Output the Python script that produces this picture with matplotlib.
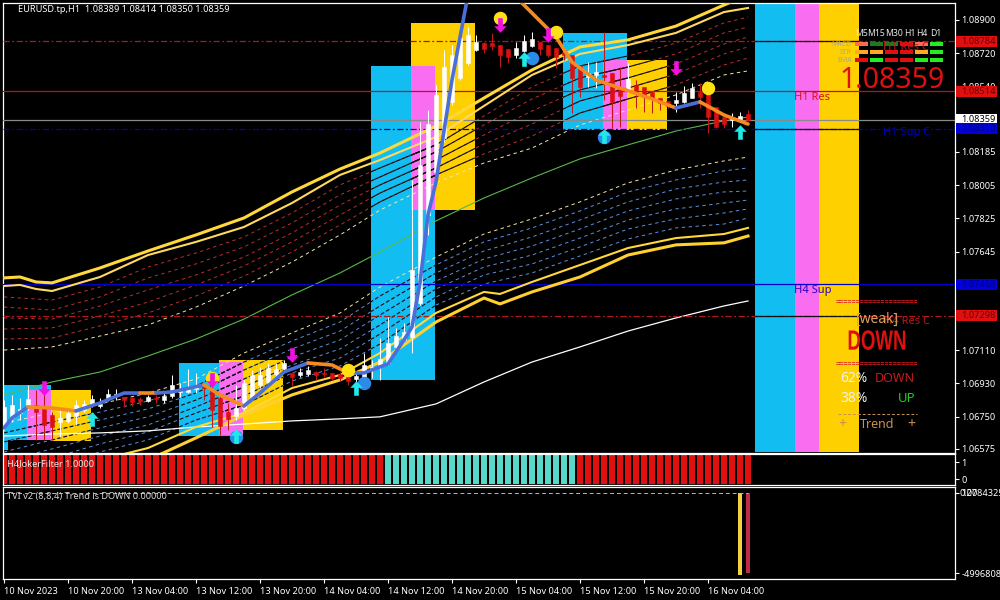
import matplotlib
matplotlib.use('Agg')
import matplotlib.pyplot as plt
from matplotlib.lines import Line2D
from matplotlib.patches import Rectangle
from matplotlib.patheffects import AbstractPathEffect
from matplotlib.transforms import Affine2D

plt.rcParams['font.family'] = ['Noto Sans', 'DejaVu Sans']

# hourly candles, bar 0 = first bar on the chart
opens = [1.06705, 1.06743, 1.06770, 1.06803, 1.06813, 1.06797, 1.06759, 1.06721, 1.06727, 1.06754,
         1.06786, 1.06813, 1.06808, 1.06851, 1.06862, 1.06857, 1.06851, 1.06846, 1.06835, 1.06851,
         1.06840, 1.06862, 1.06884, 1.06884, 1.06900, 1.06922, 1.06895, 1.06851, 1.06775, 1.06754,
         1.06797, 1.06851, 1.06922, 1.06938, 1.06981, 1.07008, 1.06987, 1.06976, 1.06981, 1.06992,
         1.06987, 1.06987, 1.06981, 1.06965, 1.06954, 1.06960, 1.07003, 1.07030, 1.07041, 1.07128,
         1.07166, 1.07182, 1.07366, 1.07843, 1.08076, 1.08260, 1.08456, 1.08586, 1.08667, 1.08737,
         1.08775, 1.08775, 1.08764, 1.08743, 1.08710, 1.08732, 1.08759, 1.08781, 1.08764, 1.08748,
         1.08727, 1.08710, 1.08656, 1.08591, 1.08602, 1.08602, 1.08613, 1.08537, 1.08515, 1.08548,
         1.08537, 1.08510, 1.08477, 1.08461, 1.08450, 1.08456, 1.08477, 1.08510, 1.08499, 1.08428,
         1.08374, 1.08358, 1.08353, 1.08389]
highs = [1.06840, 1.06868, 1.06851, 1.06922, 1.06895, 1.06878, 1.06775, 1.06786, 1.06786, 1.06840,
         1.06840, 1.06868, 1.06851, 1.06900, 1.06900, 1.06857, 1.06857, 1.06857, 1.06868, 1.06868,
         1.06884, 1.06976, 1.06933, 1.07008, 1.06987, 1.06922, 1.06922, 1.06868, 1.06824, 1.06922,
         1.06949, 1.07003, 1.07019, 1.07041, 1.07041, 1.07057, 1.06992, 1.07014, 1.07025, 1.06998,
         1.07014, 1.06987, 1.06992, 1.06970, 1.06987, 1.07095, 1.07057, 1.07176, 1.07290, 1.07231,
         1.07258, 1.08033, 1.08347, 1.08412, 1.08548, 1.08737, 1.08764, 1.08846, 1.08862, 1.08819,
         1.08781, 1.08830, 1.08764, 1.08743, 1.08781, 1.08819, 1.08835, 1.08781, 1.08764, 1.08748,
         1.08737, 1.08710, 1.08656, 1.08672, 1.08672, 1.08835, 1.08613, 1.08645, 1.08667, 1.08575,
         1.08537, 1.08510, 1.08477, 1.08461, 1.08510, 1.08542, 1.08559, 1.08559, 1.08499, 1.08428,
         1.08374, 1.08396, 1.08401, 1.08414]
lows = [1.06678, 1.06721, 1.06732, 1.06786, 1.06624, 1.06624, 1.06624, 1.06640, 1.06716, 1.06705,
        1.06775, 1.06803, 1.06797, 1.06835, 1.06840, 1.06803, 1.06808, 1.06813, 1.06830, 1.06824,
        1.06824, 1.06851, 1.06857, 1.06878, 1.06878, 1.06840, 1.06694, 1.06651, 1.06678, 1.06732,
        1.06786, 1.06840, 1.06905, 1.06933, 1.06965, 1.06998, 1.06916, 1.06965, 1.06970, 1.06949,
        1.06965, 1.06949, 1.06943, 1.06922, 1.06911, 1.06949, 1.06960, 1.06949, 1.07030, 1.07095,
        1.07155, 1.07095, 1.07355, 1.07735, 1.08060, 1.08239, 1.08439, 1.08575, 1.08656, 1.08732,
        1.08721, 1.08737, 1.08645, 1.08667, 1.08694, 1.08727, 1.08754, 1.08710, 1.08699, 1.08640,
        1.08683, 1.08396, 1.08483, 1.08537, 1.08531, 1.08466, 1.08315, 1.08320, 1.08504, 1.08423,
        1.08401, 1.08396, 1.08412, 1.08423, 1.08401, 1.08450, 1.08477, 1.08423, 1.08288, 1.08315,
        1.08315, 1.08320, 1.08347, 1.08350]
closes = [1.06803, 1.06813, 1.06792, 1.06846, 1.06775, 1.06705, 1.06694, 1.06743, 1.06770, 1.06813,
          1.06819, 1.06846, 1.06819, 1.06873, 1.06873, 1.06840, 1.06830, 1.06835, 1.06857, 1.06846,
          1.06862, 1.06922, 1.06895, 1.06911, 1.06916, 1.06905, 1.06786, 1.06700, 1.06738, 1.06797,
          1.06933, 1.06976, 1.06976, 1.07014, 1.07008, 1.07041, 1.06965, 1.06992, 1.07003, 1.06976,
          1.06981, 1.06960, 1.06960, 1.06943, 1.06970, 1.07030, 1.07019, 1.07062, 1.07149, 1.07187,
          1.07209, 1.07545, 1.08114, 1.08336, 1.08494, 1.08645, 1.08710, 1.08802, 1.08819, 1.08781,
          1.08743, 1.08759, 1.08710, 1.08699, 1.08748, 1.08786, 1.08797, 1.08743, 1.08710, 1.08699,
          1.08710, 1.08586, 1.08537, 1.08613, 1.08618, 1.08591, 1.08456, 1.08488, 1.08580, 1.08504,
          1.08483, 1.08472, 1.08450, 1.08434, 1.08466, 1.08504, 1.08531, 1.08483, 1.08374, 1.08320,
          1.08336, 1.08369, 1.08380, 1.08359]

# envelope lines, read at these bars
band_bars = [0, 6, 12, 18, 24, 30, 36, 42, 47, 54, 60, 66, 72, 78, 84, 90, 93]
red_1 = [1.07399, 1.07382, 1.07453, 1.07561, 1.07637, 1.07724, 1.07854, 1.08006, 1.08098, 1.08223, 1.08380, 1.08537, 1.08651, 1.08705, 1.08775, 1.08884, 1.08916]
red_2 = [1.07344, 1.07328, 1.07399, 1.07502, 1.07578, 1.07670, 1.07800, 1.07952, 1.08049, 1.08185, 1.08331, 1.08472, 1.08586, 1.08645, 1.08716, 1.08830, 1.08862]
red_3 = [1.07285, 1.07279, 1.07350, 1.07437, 1.07518, 1.07615, 1.07746, 1.07897, 1.08006, 1.08141, 1.08277, 1.08407, 1.08521, 1.08586, 1.08662, 1.08770, 1.08808]
red_4 = [1.07225, 1.07231, 1.07296, 1.07371, 1.07464, 1.07567, 1.07697, 1.07843, 1.07962, 1.08098, 1.08228, 1.08336, 1.08461, 1.08531, 1.08607, 1.08716, 1.08754]
red_5 = [1.07171, 1.07176, 1.07242, 1.07312, 1.07404, 1.07512, 1.07643, 1.07789, 1.07914, 1.08060, 1.08174, 1.08271, 1.08396, 1.08472, 1.08548, 1.08656, 1.08694]
pale_up = [1.07111, 1.07128, 1.07187, 1.07247, 1.07344, 1.07458, 1.07588, 1.07735, 1.07870, 1.08017, 1.08125, 1.08206, 1.08331, 1.08412, 1.08494, 1.08602, 1.08624]
green = [1.06868, 1.06938, 1.06992, 1.07079, 1.07171, 1.07279, 1.07410, 1.07529, 1.07643, 1.07811, 1.07935, 1.08044, 1.08147, 1.08223, 1.08298, 1.08353, 1.08374]
pale_low = [1.06716, 1.06770, 1.06819, 1.06878, 1.06954, 1.07095, 1.07204, 1.07312, 1.07453, 1.07615, 1.07740, 1.07822, 1.07914, 1.08017, 1.08087, 1.08136, 1.08157]
blue_1 = [1.06662, 1.06721, 1.06775, 1.06835, 1.06916, 1.07046, 1.07160, 1.07263, 1.07404, 1.07572, 1.07697, 1.07773, 1.07865, 1.07968, 1.08033, 1.08082, 1.08098]
blue_2 = [1.06613, 1.06673, 1.06732, 1.06792, 1.06878, 1.07003, 1.07117, 1.07214, 1.07350, 1.07529, 1.07648, 1.07724, 1.07816, 1.07914, 1.07984, 1.08022, 1.08033]
blue_3 = [1.06559, 1.06624, 1.06689, 1.06749, 1.06840, 1.06954, 1.07073, 1.07166, 1.07301, 1.07485, 1.07605, 1.07675, 1.07767, 1.07865, 1.07930, 1.07968, 1.07973]
blue_4 = [1.06510, 1.06575, 1.06645, 1.06705, 1.06803, 1.06911, 1.07030, 1.07117, 1.07247, 1.07442, 1.07561, 1.07626, 1.07718, 1.07816, 1.07876, 1.07908, 1.07924]
blue_5 = [1.06456, 1.06526, 1.06602, 1.06667, 1.06770, 1.06862, 1.06987, 1.07068, 1.07198, 1.07399, 1.07518, 1.07578, 1.07670, 1.07767, 1.07822, 1.07854, 1.07876]
blue_6 = [1.06407, 1.06483, 1.06559, 1.06624, 1.06732, 1.06813, 1.06943, 1.07025, 1.07144, 1.07355, 1.07469, 1.07529, 1.07621, 1.07713, 1.07773, 1.07794, 1.07827]
white_ma = [1.06645, 1.06656, 1.06662, 1.06673, 1.06694, 1.06710, 1.06727, 1.06738, 1.06749, 1.06819, 1.06938, 1.07046, 1.07128, 1.07214, 1.07285, 1.07350, 1.07377]

# yellow envelope edges
top_bars = [0, 2, 4, 6, 12, 18, 24, 30, 36, 42, 47, 54, 60, 66, 72, 78, 84, 90, 93]
top_1 = [1.07502, 1.07507, 1.07480, 1.07475, 1.07556, 1.07648, 1.07735, 1.07827, 1.07968, 1.08092, 1.08179, 1.08325, 1.08477, 1.08629, 1.08754, 1.08792, 1.08867, 1.08981, 1.09036]
top_2 = [1.07458, 1.07464, 1.07442, 1.07431, 1.07507, 1.07626, 1.07697, 1.07778, 1.07908, 1.08060, 1.08141, 1.08266, 1.08434, 1.08602, 1.08716, 1.08764, 1.08830, 1.08943, 1.08965]
low_bars = [0, 6, 12, 18, 24, 30, 36, 42, 47, 54, 60, 62, 66, 72, 78, 84, 90, 93]
low_1 = [1.06353, 1.06434, 1.06515, 1.06580, 1.06694, 1.06770, 1.06905, 1.06976, 1.07095, 1.07312, 1.07426, 1.07415, 1.07480, 1.07572, 1.07664, 1.07718, 1.07740, 1.07773]
low_2 = [1.06298, 1.06380, 1.06461, 1.06515, 1.06635, 1.06759, 1.06868, 1.06949, 1.07046, 1.07263, 1.07393, 1.07361, 1.07426, 1.07507, 1.07626, 1.07681, 1.07692, 1.07729]

# thick trend line, one entry per colour run
trend_runs = [
    ('blue', [0, 1, 3], [1.06689, 1.06743, 1.06803]),
    ('orange', [3, 6, 9], [1.06803, 1.06797, 1.06781]),
    ('blue', [9, 12, 15, 17], [1.06781, 1.06824, 1.06878, 1.06878]),
    ('orange', [17, 19], [1.06878, 1.06878]),
    ('blue', [19, 21, 25], [1.06878, 1.06884, 1.06922]),
    ('orange', [25, 27, 30], [1.06922, 1.06868, 1.06808]),
    ('blue', [30, 32, 35, 38], [1.06808, 1.06878, 1.06992, 1.07041]),
    ('orange', [38, 41, 43], [1.07041, 1.07030, 1.06987]),
    ('blue', [43, 45, 48, 50, 51, 52, 53, 54, 56, 58],
     [1.06987, 1.06987, 1.07036, 1.07166, 1.07236, 1.07475, 1.07843, 1.08022, 1.08575, 1.09036]),
    ('orange', [64, 65, 69, 71, 74, 77, 81, 84],
     [1.09025, 1.08981, 1.08808, 1.08672, 1.08575, 1.08531, 1.08472, 1.08423]),
    ('blue', [84, 87], [1.08423, 1.08456]),
    ('orange', [87, 90, 93], [1.08456, 1.08385, 1.08336]),
]

# signal markers
down_bars = [5, 26, 36, 62, 68, 84]
down_prices = [1.06905, 1.06949, 1.07084, 1.08873, 1.08819, 1.08640]
up_bars = [11, 44, 65, 92, 29, 75]
up_prices = [1.06738, 1.06905, 1.08689, 1.08293, 1.06645, 1.08271]
yellow_dot_bars = [26, 43, 62, 69, 88]
yellow_dot_prices = [1.06960, 1.07003, 1.08911, 1.08835, 1.08531]
blue_dot_bars = [45, 66, 29, 75]
blue_dot_prices = [1.06933, 1.08694, 1.06640, 1.08266]

# session boxes: colour, first bar edge, last bar edge, high, low
boxes = [
    ('blue', -0.12, 5.88, 1.06922, 1.06624),
    ('blue', -0.12, 0.5, 1.06624, 1.06569),
    ('gold', 5.88, 10.88, 1.06895, 1.06618),
    ('pink', 2.88, 5.88, 1.06895, 1.06624),
    ('blue', 21.88, 29.88, 1.07041, 1.06645),
    ('gold', 26.88, 34.88, 1.07057, 1.06678),
    ('pink', 26.88, 29.88, 1.07046, 1.06651),
    ('gold', 50.88, 58.88, 1.08884, 1.07870),
    ('blue', 45.88, 53.88, 1.08650, 1.06949),
    ('pink', 50.88, 53.88, 1.08650, 1.07870),
    ('blue', 69.88, 77.88, 1.08830, 1.08304),
    ('pink', 74.88, 77.88, 1.08683, 1.08304),
    ('gold', 77.88, 82.88, 1.08683, 1.08304),
    ('blue', 93.88, 98.88, 1.0899, 1.0656),
    ('pink', 98.88, 101.88, 1.0899, 1.0656),
    ('gold', 101.88, 106.88, 1.0899, 1.0656),
]

# horizontal levels
level_prices = [1.08784, 1.08514, 1.08359, 1.08310, 1.07468, 1.07298]
level_labels = ['1.08784', '1.08514', '1.08359', '1.08310', '1.07468', '1.07298']
level_colors = ['#b01818', '#c01010', '#8a8a8a', '#0000b0', '#0000c8', '#b01818']
level_styles = [(0, (5, 2, 1.5, 2)), '-', '-', (0, (5, 2, 1.5, 2)), '-', (0, (5, 2, 1.5, 2))]
tag_colors = ['#e01010', '#e01010', '#ffffff', '#0000d8', '#0000d8', '#e01010']
tag_text = ['#6a0000', '#6a0000', '#000000', '#000070', '#000070', '#6a0000']

price_ticks = [1.08900, 1.08720, 1.08540, 1.08185, 1.08005, 1.07825, 1.07645, 1.07465, 1.07285, 1.07110, 1.06930, 1.06750, 1.06575]
# the 1.07465 label sits fully behind the 1.07468 tag
price_tick_labels = ['1.08900', '1.08720', '1.08540', '1.08185', '1.08005', '1.07825', '1.07645', '', '1.07285', '1.07110', '1.06930', '1.06750', '1.06575']
time_labels = ['10 Nov 2023', '10 Nov 20:00', '13 Nov 04:00', '13 Nov 12:00', '13 Nov 20:00', '14 Nov 04:00',
               '14 Nov 12:00', '14 Nov 20:00', '15 Nov 04:00', '15 Nov 12:00', '15 Nov 20:00', '16 Nov 04:00']

# 0 = red, 1 = teal
joker_state = [0] * 48 + [1] * 24 + [0] * 22
tvi_line_bars = [0, 93]
tvi_top = 12784325
tvi_yellow = -52000000
tvi_red = -51000000

timeframes = ['M5', 'M15', 'M30', 'H1', 'H4', 'D1']
dash_row_1 = ['#ff6a50', '#1c7a1c', '#1c7a1c', '#e01010', '#ff6a50', '#22ee22']
dash_row_2 = ['#ffa820', '#ffa820', '#e01010', '#e01010', '#ffa820', '#22ee22']
dash_row_3 = ['#e01010', '#22ee22', '#e01010', '#e01010', '#22ee22', '#22ee22']

BG = '#000000'
BOX_COLORS = {'blue': '#12bdf2', 'pink': '#f96ef0', 'gold': '#ffd000'}
TREND_COLORS = {'blue': '#4a6fd8', 'orange': '#f58a1f'}
SMALL = 6.6
NAME_SIZE = 8


class Squeeze(AbstractPathEffect):
    # narrow and stretch a text about a pixel point, for the tall DOWN label
    def __init__(self, cx, cy, sx, sy):
        super().__init__()
        self.fix = Affine2D().translate(-cx, -cy).scale(sx, sy).translate(cx, cy)

    def draw_path(self, renderer, gc, tpath, affine, rgbFace=None):
        renderer.draw_path(gc, tpath, affine + self.fix, rgbFace)


def panel(left, top, right, bottom):
    return fig.add_axes([left / 1000, (600 - bottom) / 600, (right - left) / 1000, (bottom - top) / 600],
                        facecolor=BG)


def style(ax):
    for s in ax.spines.values():
        s.set_color('white')
        s.set_linewidth(0.9)
    ax.yaxis.tick_right()
    ax.tick_params(colors='white', labelsize=SMALL, length=3, width=0.8, pad=1.5)


def figtext(x, y, s, **kw):
    kw.setdefault('va', 'center')
    return fig.text(x / 1000, 1 - y / 600, s, **kw)


fig = plt.figure(figsize=(10, 6), dpi=100, facecolor=BG)
ax = panel(3, 3, 955, 453)
ax2 = panel(3, 454, 955, 485)
ax3 = panel(3, 487, 955, 579)
for a in (ax, ax2, ax3):
    style(a)
    a.set_xlim(-0.125, 118.875)

# main price window
ax.set_ylim(1.06553, 1.08992)
ax.set_yticks(price_ticks)
ax.set_yticklabels(price_tick_labels)
ax.set_xticks([])

patches = []
for color, x0, x1, hi, lo in boxes:
    r = Rectangle((x0, lo), x1 - x0, hi - lo, facecolor=BOX_COLORS[color], edgecolor='none', zorder=1)
    ax.add_patch(r)
    patches.append(r)

reds = [red_1, red_2, red_3, red_4, red_5]
blues = [blue_1, blue_2, blue_3, blue_4, blue_5, blue_6]
for line in reds:
    ax.plot(band_bars, line, color='#b83030', lw=0.7, ls=(0, (3.5, 3.5)), zorder=2)
    for r in patches:
        over = ax.plot(band_bars, line, color='#101010', lw=0.8, zorder=2.2)[0]
        over.set_clip_path(r)
for line in blues:
    ax.plot(band_bars, line, color='#5f90e0', lw=0.7, ls=(0, (3.5, 3.5)), zorder=2)
    for r in patches:
        over = ax.plot(band_bars, line, color='#101010', lw=0.8, ls=(0, (3.5, 2)), zorder=2.2)[0]
        over.set_clip_path(r)
ax.plot(band_bars, pale_up, color='#f2e8a8', lw=0.7, ls=(0, (3.5, 3.5)), zorder=2.3)
ax.plot(band_bars, pale_low, color='#f2e8a8', lw=0.7, ls=(0, (3.5, 3.5)), zorder=2.3)
ax.plot(band_bars, green, color='#58b848', lw=0.8, zorder=2.3)
ax.plot(band_bars, white_ma, color='white', lw=0.9, zorder=2.3)

ax.plot(top_bars, top_1, color='#ffd83a', lw=2.2, zorder=3)
ax.plot(top_bars, top_2, color='#ffd860', lw=1.5, zorder=3)
ax.plot(low_bars, low_1, color='#ffd83a', lw=1.5, zorder=3)
ax.plot(low_bars, low_2, color='#ffd030', lw=2.2, zorder=3)

# levels run under the candles, and go black over the tall right boxes
for price, color, ls in zip(level_prices, level_colors, level_styles):
    ax.axhline(price, color=color, lw=0.9, ls=ls, zorder=2.6)
    if color in ('#b01818', '#0000b0'):
        for r in patches[-3:]:
            over = ax.axhline(price, color='#101010', lw=0.9, zorder=2.7)
            over.set_clip_path(r)

# candles
bars = list(range(len(opens)))
for i in bars:
    up = closes[i] >= opens[i]
    col = '#ffffff' if up else '#dd1010'
    ax.vlines(i, lows[i], highs[i], color='#ffffff' if up else '#c01818', lw=0.75, zorder=4)
    ax.bar(i, abs(closes[i] - opens[i]), bottom=min(opens[i], closes[i]), width=0.62,
           color=col, edgecolor=col, linewidth=0.4, zorder=4.2)

for color, xs, ys in trend_runs:
    ax.plot(xs, ys, color=TREND_COLORS[color], lw=2.6, solid_capstyle='round', zorder=5)

UP_ARROW = [(0, 1), (0.85, 0.1), (0.32, 0.1), (0.32, -1), (-0.32, -1), (-0.32, 0.1), (-0.85, 0.1), (0, 1)]
DOWN_ARROW = [(x, -y) for x, y in UP_ARROW]
ax.scatter(yellow_dot_bars, yellow_dot_prices, s=75, color='#ffe014', zorder=6)
ax.scatter(blue_dot_bars, blue_dot_prices, s=75, color='#2a8ce8', zorder=6)
ax.scatter(down_bars, down_prices, s=110, marker=DOWN_ARROW, color='#f010e0', linewidths=0, zorder=6.5)
ax.scatter(up_bars, up_prices, s=110, marker=UP_ARROW, color='#20e8e8', linewidths=0, zorder=6.5)

# price tags on the right scale
trans = ax.get_yaxis_transform()
for price, label, bg, fg in zip(level_prices, level_labels, tag_colors, tag_text):
    ax.add_patch(Rectangle((1.0015, price - 0.0003), 0.043, 0.0006, transform=trans, facecolor=bg,
                           edgecolor='none', clip_on=False, zorder=10))
    ax.text(1.0065, price, label, transform=trans, color=fg, fontsize=SMALL, va='center', ha='left',
            clip_on=False, zorder=11)

figtext(18, 10, 'EURUSD.tp,H1  1.08389 1.08414 1.08350 1.08359', color='white', fontsize=SMALL)

# level names
figtext(794, 97, 'H1 Res', color='#e01010', fontsize=NAME_SIZE)
figtext(883, 133, 'H1 Sup C', color='#0000c0', fontsize=NAME_SIZE)
figtext(794, 290, 'H4 Sup', color='#3000c8', fontsize=NAME_SIZE)
figtext(884, 321, 'H4 Res C', color='#c01818', fontsize=NAME_SIZE)
figtext(883, 48, 'H1 Res C', color='#c01818', fontsize=NAME_SIZE)

# timeframe panel
tf_x = [861, 876, 894, 910, 922, 936]
for name, x in zip(timeframes, tf_x):
    figtext(x, 33, name, color='#e8e8e8', fontsize=6.2, ha='center')
for row, y in zip((dash_row_1, dash_row_2, dash_row_3), (44, 52, 60)):
    for k, c in enumerate(row):
        fig.add_artist(Rectangle(((855 + 15 * k) / 1000, 1 - (y + 2) / 600), 13 / 1000, 4 / 600,
                                 transform=fig.transFigure, facecolor=c, edgecolor='none'))
for name, y in zip(['MACD', 'STR', 'EMA'], (44, 52, 60)):
    figtext(852, y, name, color='#a8a890', fontsize=5, ha='right')
figtext(839, 81, '1.08359', color='#e01010', fontsize=20.5)

# signal block
figtext(877, 302, '=' * 20, color='#e02020', fontsize=5, ha='center', family='Liberation Sans', weight='bold')
figtext(877, 319, '[weak]', color='#e0a060', fontsize=10, ha='center')
down = figtext(877, 342, 'DOWN', color='#e01010', fontsize=17, ha='center', weight='bold', family='Liberation Sans')
down.set_path_effects([Squeeze(877, 600 - 342, 0.79, 1.18)])
figtext(877, 364, '=' * 20, color='#e02020', fontsize=5, ha='center', family='Liberation Sans', weight='bold')
figtext(840, 379, '62%', color='#f0f0f0', fontsize=10)
figtext(915, 379, 'DOWN', color='#d01818', fontsize=9, ha='right')
figtext(840, 399, '38%', color='#f0f0f0', fontsize=10)
figtext(915, 399, 'UP', color='#22cc22', fontsize=9.5, ha='right')
fig.add_artist(Line2D([838 / 1000, 917 / 1000], [1 - 414 / 600] * 2, color='#c89050', lw=0.7, ls=(0, (3, 2))))
figtext(842, 425, '+', color='#c89050', fontsize=10, ha='center')
figtext(877, 425, 'Trend', color='#c89050', fontsize=9, ha='center')
figtext(911, 425, '+', color='#c89050', fontsize=10, ha='center')

# filter histogram
ax2.set_ylim(-0.35, 1.47)
ax2.set_yticks([1, 0])
ax2.set_yticklabels(['1', '0'])
ax2.set_xticks([])
for i, state in zip(bars, joker_state):
    ax2.bar(i, 1.7, bottom=-0.29, width=0.68, color='#58d8c8' if state else '#e01010', linewidth=0)
figtext(7, 464, 'H4JokerFilter 1.0000', color='#e8e8e8', fontsize=SMALL, zorder=5)

# TVI window
ax3.set_ylim(-55528000, 17550000)
ax3.set_yticks([tvi_top, tvi_red])
ax3.set_yticklabels(['12784325.', '-49968083'])
ax3.plot(tvi_line_bars, [tvi_top, tvi_top], color='#c8c060', lw=0.7, ls=(0, (4, 3)))
ax3.bar(92, tvi_top - tvi_yellow, bottom=tvi_yellow, width=0.42, color='#f5d040', linewidth=0)
ax3.bar(93, tvi_top - tvi_red, bottom=tvi_red, width=0.42, color='#c02848', linewidth=0)
figtext(959, 494, '0.00', color='white', fontsize=SMALL)
figtext(7, 497, 'TVI v2 (8,8,4) Trend is DOWN 0.00000', color='#d8d8d8', fontsize=SMALL, zorder=5)

ax3.set_xticks(range(0, 96, 8))
ax3.set_xticklabels(time_labels, ha='left')
ax3.tick_params(axis='x', pad=3)

fig.savefig('out.png', dpi=100, facecolor=BG)
